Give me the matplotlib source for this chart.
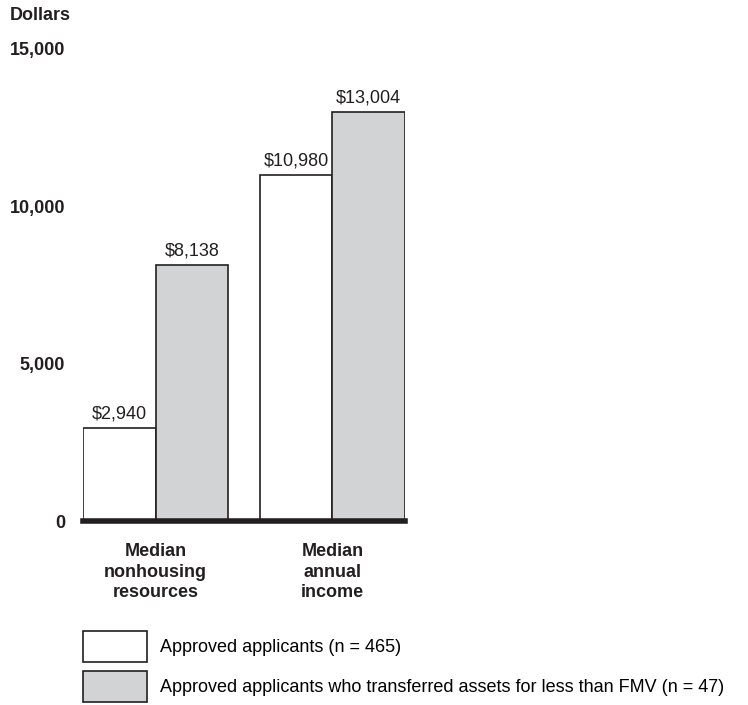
import matplotlib.pyplot as plt
import numpy as np

plt.rcParams['font.family'] = ['Liberation Sans', 'DejaVu Sans']

categories = ['Median\nnonhousing\nresources', 'Median\nannual\nincome']
approved = [2940, 10980]
transferred = [8138, 13004]
series_labels = ['Approved applicants (n = 465)',
                 'Approved applicants who transferred assets for less than FMV (n = 47)']
yticks = [0, 5000, 10000, 15000]

fill_white = 'white'
fill_gray = '#d1d3d4'
edge = '#231f20'

fig = plt.figure(figsize=(7.48, 7.05), dpi=100)
ax = fig.add_axes([83 / 748, 1 - 521 / 705, 322 / 748, 472 / 705])

x = np.arange(len(categories)) * 2.44
w = 1.0
b1 = ax.bar(x - w / 2, approved, w, color=fill_white, edgecolor=edge, linewidth=1.2)
b2 = ax.bar(x + w / 2, transferred, w, color=fill_gray, edgecolor=edge, linewidth=1.2)

for bars, vals in [(b1, approved), (b2, transferred)]:
    for rect, v in zip(bars, vals):
        ax.annotate('${:,}'.format(v), (rect.get_x() + rect.get_width() / 2, v),
                    xytext=(0, 4), textcoords='offset points',
                    ha='center', va='bottom', fontsize=13, color='#231f20')

ax.set_xlim(x[0] - w, x[-1] + w)
ax.set_ylim(0, 15000)

ax.set_yticks(yticks)
ax.set_yticklabels(['{:,}'.format(t) for t in yticks], fontsize=13, fontweight='bold', color='#231f20')
ax.tick_params(axis='y', length=0, pad=13)

ax.set_xticks(x)
ax.set_xticklabels(categories, fontsize=13, fontweight='bold', color='#231f20', linespacing=1.27)
ax.tick_params(axis='x', length=0, pad=16)

for s in ['top', 'right', 'left']:
    ax.spines[s].set_visible(False)
ax.spines['bottom'].set_linewidth(4)
ax.spines['bottom'].set_color(edge)

fig.text(10 / 748, 1 - 16 / 705, 'Dollars', fontsize=13, fontweight='bold',
         color='#231f20', ha='left', va='center')

fig.legend([b1[0], b2[0]], series_labels, loc='upper left',
           bbox_to_anchor=(83 / 748, 1 - 631 / 705), frameon=False,
           fontsize=13, handlelength=3.55, handleheight=2.27,
           handletextpad=0.72, labelspacing=0.5, borderpad=0, borderaxespad=0)

fig.savefig('out.png', dpi=100)
